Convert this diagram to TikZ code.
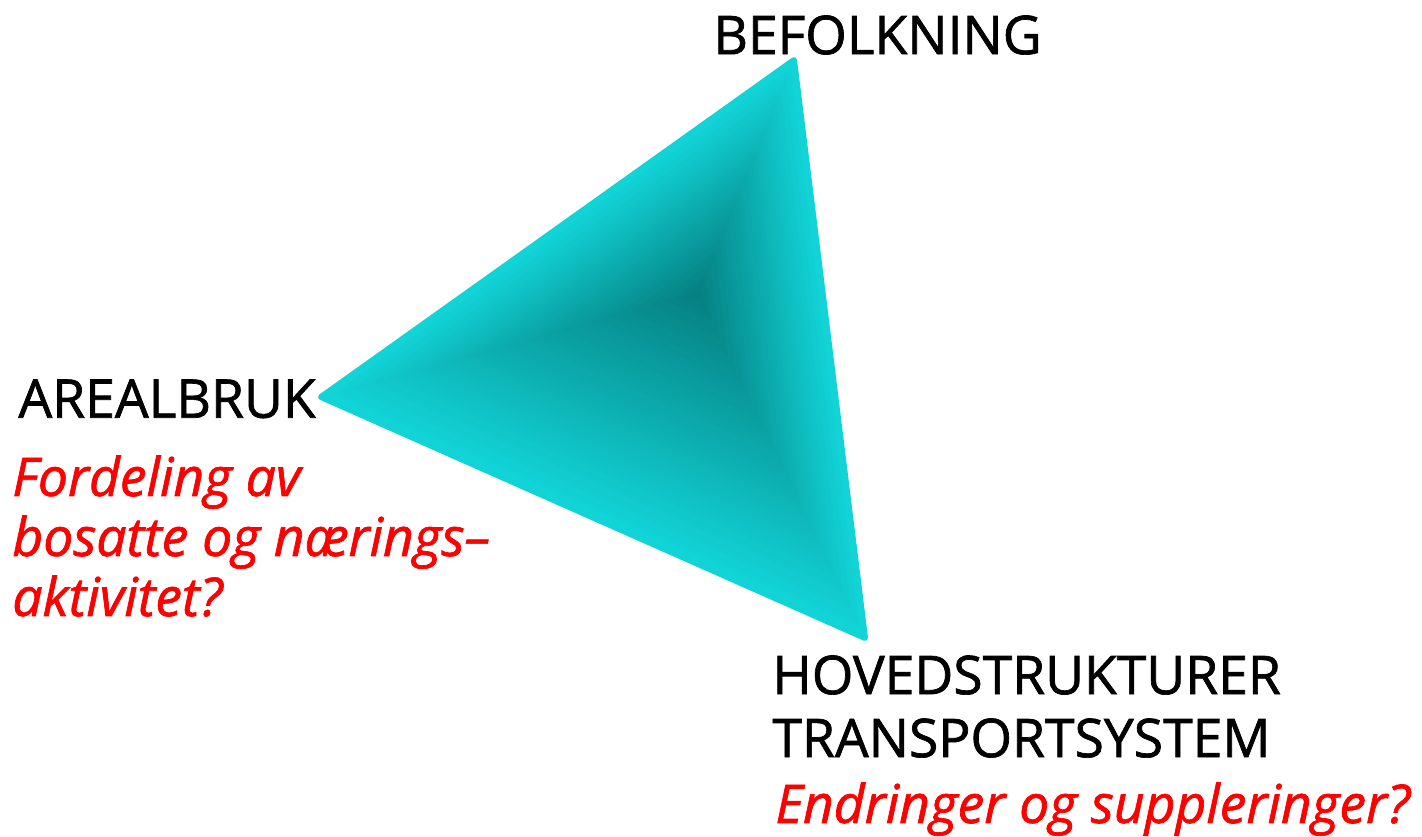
\documentclass[tikz,border=0pt]{standalone}
\usepackage{fontspec}
\setmainfont{Open Sans}[FakeBold=1.3]
\usepackage{tikz}
\usetikzlibrary{calc}
\definecolor{triedge}{RGB}{18, 212, 215}
\definecolor{tricore}{RGB}{6, 128, 130}
\definecolor{askred}{RGB}{255, 0, 0}

\begin{document}
\begin{tikzpicture}[x=0.5pt, y=-0.5pt,
  heading/.style={anchor=north west, inner sep=0pt, align=left, font=\fontsize{26.7}{31.5}\selectfont},
  question/.style={anchor=north west, inner sep=0pt, align=left, text=askred, font=\fontsize{26.7}{30}\selectfont\itshape}]
  \useasboundingbox (0, 0) rectangle (1422, 836);

  % Triangle corners and the dark core of the shading
  \coordinate (top) at (794, 60);
  \coordinate (left) at (321, 397);
  \coordinate (bottom) at (865, 638);
  \coordinate (core) at (698, 293);

  % Outer triangle with rounded tips
  \fill[triedge, draw=triedge, line width=3pt, line join=round] (top) -- (left) -- (bottom) -- cycle;
  % Nested triangles, darker towards the core
  \foreach \i in {1,...,60} {
    \pgfmathsetmacro{\s}{1 - \i/61}
    \pgfmathtruncatemacro{\m}{100*\i/60}
    \fill[tricore!\m!triedge] ($(core)!\s!(top)$) -- ($(core)!\s!(left)$) -- ($(core)!\s!(bottom)$) -- cycle;
  }

  % Labels
  \node[heading] (befolkning) at (713, 15) {BEFOLKNING};
  \node[heading] (arealbruk) at (18, 379) {AREALBRUK};
  \node[question] (fordeling) at (12, 455) {Fordeling av\\bosatte og nærings–\\aktivitet?};
  \node[heading] (hoved) at (772, 655) {HOVEDSTRUKTURER\\TRANSPORTSYSTEM};
  \node[question] (endringer) at (775, 782) {Endringer og suppleringer?};
\end{tikzpicture}
\end{document}
